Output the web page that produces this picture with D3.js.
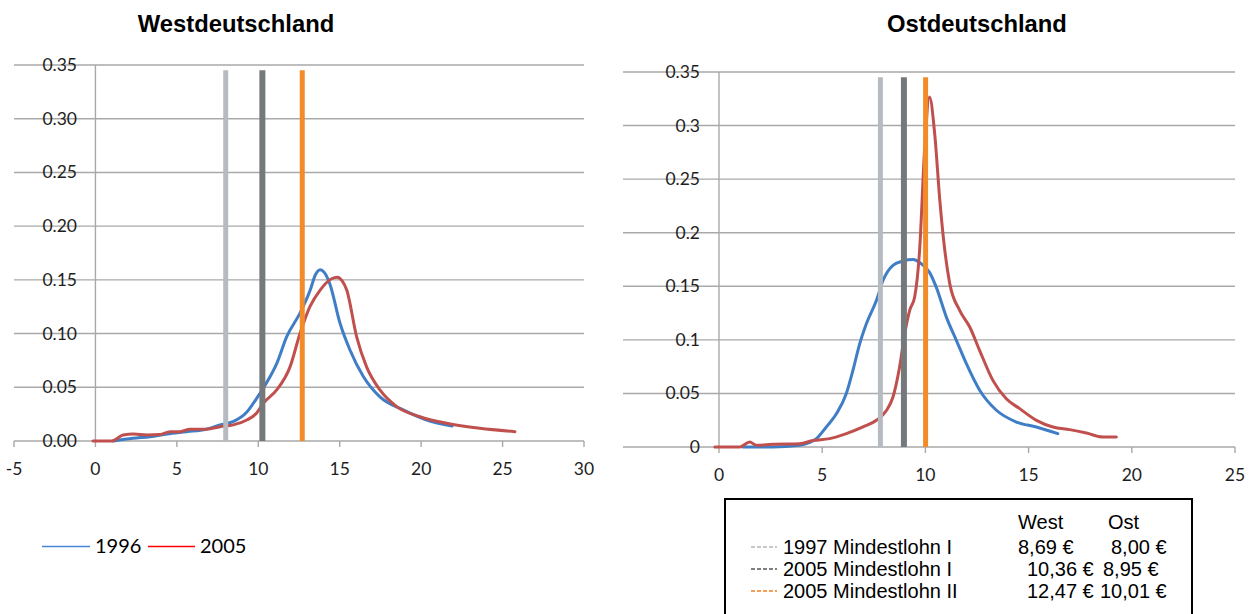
<!DOCTYPE html>
<html>
<head>
<meta charset="utf-8">
<script src="https://cdn.jsdelivr.net/npm/d3@7"></script>
<style>
  body { margin: 0; background: #fff; }
  svg { display: block; }
</style>
</head>
<body>
<svg id="chart" width="1251" height="614"></svg>
<script>
// ---- data ----
var yTicks = [0, 0.05, 0.1, 0.15, 0.2, 0.25, 0.3, 0.35];
var westXTicks = [-5, 0, 5, 10, 15, 20, 25, 30];
var ostXTicks = [0, 5, 10, 15, 20, 25];

var west1996 = [[1.1, 0], [2.3, 0.0025], [3.35, 0.004], [4.4, 0.0065], [5.6, 0.0087], [6.8, 0.011],
  [7.65, 0.015], [8.45, 0.018], [9.3, 0.027], [9.9, 0.0397], [10.5, 0.054], [11.13, 0.072],
  [11.74, 0.097], [12.56, 0.119], [13.2, 0.141], [13.5, 0.1545], [13.8, 0.1595], [14.05, 0.157],
  [14.4, 0.146], [15.02, 0.1096], [15.63, 0.0847], [16.45, 0.06], [17.47, 0.041], [18.9, 0.0289],
  [20.34, 0.0195], [21.9, 0.014]];
var west2005 = [[-0.15, 0], [1.0, 0], [1.7, 0.0056], [2.33, 0.0065], [3.15, 0.0056], [3.97, 0.006],
  [4.58, 0.0087], [5.2, 0.0087], [5.8, 0.011], [6.83, 0.011], [7.65, 0.0133], [8.47, 0.015],
  [9.29, 0.0195], [9.9, 0.026], [10.3, 0.035], [11.13, 0.0475], [11.95, 0.069], [12.56, 0.1],
  [13.17, 0.125], [13.8, 0.1405], [14.5, 0.151], [14.85, 0.1525], [15.15, 0.149], [15.43, 0.1406],
  [16.04, 0.097], [16.65, 0.069], [17.47, 0.0475], [18.5, 0.032], [19.93, 0.0226], [21.56, 0.0165],
  [23.6, 0.0118], [25.76, 0.0087]];
var ost1996 = [[1.16, 0], [2.6, 0], [3.9, 0.0016], [4.72, 0.0078], [5.2, 0.0187], [5.69, 0.031],
  [6.17, 0.05], [6.49, 0.0716], [6.82, 0.0965], [7.14, 0.115], [7.63, 0.137], [7.95, 0.1556],
  [8.43, 0.1696], [8.92, 0.1736], [9.4, 0.1749], [9.8, 0.171], [10.2, 0.163], [10.53, 0.149],
  [11.02, 0.121], [11.5, 0.0996], [11.98, 0.078], [12.63, 0.053], [13.44, 0.0343], [14.41, 0.0233],
  [15.38, 0.0187], [16.42, 0.0125]];
var ost2005 = [[-0.2, 0], [1.0, 0], [1.49, 0.0047], [1.81, 0.0016], [2.6, 0.0025], [3.9, 0.003],
  [4.55, 0.006], [5.36, 0.0078], [6.17, 0.0125], [6.98, 0.0187], [7.63, 0.025], [8.11, 0.034],
  [8.43, 0.0467], [8.75, 0.0747], [9.0, 0.106], [9.24, 0.1276], [9.48, 0.14], [9.72, 0.1836],
  [9.96, 0.277], [10.2, 0.3267], [10.45, 0.2925], [10.7, 0.23], [10.94, 0.1836], [11.18, 0.1525],
  [11.66, 0.1276], [12.15, 0.112], [12.63, 0.09], [13.27, 0.0622], [13.92, 0.045], [14.57, 0.0358],
  [15.38, 0.0249], [16.18, 0.0187], [16.99, 0.0162], [17.8, 0.013], [18.6, 0.0093], [19.25, 0.0093]];

// minimum wage markers (positions as drawn)
var westMinWage = [8.0, 10.25, 12.7];
var ostMinWage = [7.82, 8.96, 10.01];
var minWageTop = 0.345;

var wageLabels = ["1997 Mindestlohn I", "2005 Mindestlohn I", "2005 Mindestlohn II"];
var wageWest = ["8,69 €", "10,36 €", "12,47 €"];
var wageOst = ["8,00 €", "8,95 €", "10,01 €"];
var seriesNames = ["1996", "2005"];

// ---- styles ----
var curveColors = ["#3f7ec6", "#c0504d"];
var markerColors = ["#b5bbc1", "#76797c", "#f28c28"];
var markerWidths = [5, 6, 5];
var legendDashColors = ["#c8c8c8", "#808080", "#f4a05a"];
var gridColor = "#a9a9a9";
var tickFont = "Lato, 'Open Sans', sans-serif";

var svg = d3.select("#chart");

function drawPanel(opt) {
  var x = d3.scaleLinear().domain(opt.xDomain).range(opt.xRange);
  var y = d3.scaleLinear().domain([0, 0.35]).range(opt.yRange);
  var g = svg.append("g");

  // horizontal gridlines (the 0 line is the x axis)
  g.selectAll(".grid").data(yTicks).enter().append("line")
    .attr("x1", x(opt.xDomain[0])).attr("x2", x(opt.xDomain[1]))
    .attr("y1", function (d) { return y(d); }).attr("y2", function (d) { return y(d); })
    .attr("stroke", gridColor).attr("stroke-width", 1.4);

  // vertical axis at x = 0
  g.append("line")
    .attr("x1", x(0)).attr("x2", x(0))
    .attr("y1", y(0.35)).attr("y2", y(0))
    .attr("stroke", gridColor).attr("stroke-width", 1.4);

  // x tick marks + labels
  g.selectAll(".xtick").data(opt.xTicks).enter().append("line")
    .attr("x1", function (d) { return x(d); }).attr("x2", function (d) { return x(d); })
    .attr("y1", y(0)).attr("y2", y(0) + 6)
    .attr("stroke", gridColor).attr("stroke-width", 1.4);
  g.selectAll(".xlab").data(opt.xTicks).enter().append("text")
    .attr("x", function (d) { return x(d); })
    .attr("y", y(0) + opt.xLabelDy)
    .attr("text-anchor", "middle")
    .style("font-family", tickFont).style("font-size", "17.5px").attr("fill", "#1e1e1e")
    .text(function (d) { return d; });

  // y labels
  g.selectAll(".ylab").data(yTicks).enter().append("text")
    .attr("x", opt.yLabelX)
    .attr("y", function (d) { return y(d) + 6; })
    .attr("text-anchor", "end")
    .style("font-family", tickFont).style("font-size", "17.5px").attr("fill", "#1e1e1e")
    .text(opt.yFormat);

  // curves
  var line = d3.line()
    .x(function (d) { return x(d[0]); })
    .y(function (d) { return y(d[1]); })
    .curve(d3.curveMonotoneX);
  opt.series.forEach(function (s, i) {
    g.append("path").datum(s)
      .attr("d", line)
      .attr("fill", "none")
      .attr("stroke", curveColors[i])
      .attr("stroke-width", 3)
      .attr("stroke-linejoin", "round")
      .attr("stroke-linecap", "round");
  });

  // minimum wage markers
  g.selectAll(".wage").data(opt.wages).enter().append("line")
    .attr("x1", function (d) { return x(d); }).attr("x2", function (d) { return x(d); })
    .attr("y1", y(minWageTop)).attr("y2", y(0))
    .attr("stroke", function (d, i) { return markerColors[i]; })
    .attr("stroke-width", function (d, i) { return markerWidths[i]; });

  // title
  svg.append("text")
    .attr("x", opt.titleX).attr("y", 32)
    .attr("text-anchor", "middle")
    .style("font-family", "'Liberation Sans', Arial, sans-serif")
    .style("font-size", "23.8px").style("font-weight", "bold")
    .text(opt.title);
}

drawPanel({
  title: "Westdeutschland", titleX: 236,
  xDomain: [-5, 30], xRange: [14, 584], yRange: [441, 65],
  xTicks: westXTicks, xLabelDy: 34, yLabelX: 77,
  yFormat: d3.format(".2f"),
  series: [west1996, west2005], wages: westMinWage
});

drawPanel({
  title: "Ostdeutschland", titleX: 977,
  xDomain: [-4.65, 25], xRange: [623, 1235], yRange: [447, 72],
  xTicks: ostXTicks, xLabelDy: 34, yLabelX: 700,
  yFormat: function (d) { return String(d); },
  series: [ost1996, ost2005], wages: ostMinWage
});

// ---- series legend (bottom left) ----
var leg = svg.append("g");
var legendItems = [{ x1: 42, x2: 90, tx: 95, color: "#4a86d8" }, { x1: 148, x2: 195, tx: 200, color: "#ff0000" }];
legendItems.forEach(function (it, i) {
  leg.append("line").attr("x1", it.x1).attr("x2", it.x2).attr("y1", 546.5).attr("y2", 546.5)
    .attr("stroke", it.color).attr("stroke-width", 1.3);
  leg.append("text").attr("x", it.tx).attr("y", 553)
    .style("font-family", tickFont).style("font-size", "20px").attr("fill", "#000")
    .text(seriesNames[i]);
});

// ---- minimum wage table (bottom right) ----
var box = svg.append("g").style("font-family", "'Liberation Sans', Arial, sans-serif").style("font-size", "20px");
box.append("rect").attr("x", 725).attr("y", 499).attr("width", 467).attr("height", 130)
  .attr("fill", "none").attr("stroke", "#000").attr("stroke-width", 2);
box.append("text").attr("x", 1018).attr("y", 529).text("West");
box.append("text").attr("x", 1108).attr("y", 529).text("Ost");
var rowY = [554, 576, 598];
var westX = [1018, 1027, 1027];
var ostX = [1111, 1103, 1100];
wageLabels.forEach(function (lab, i) {
  box.append("line").attr("x1", 751).attr("x2", 777).attr("y1", rowY[i] - 7).attr("y2", rowY[i] - 7)
    .attr("stroke", legendDashColors[i]).attr("stroke-width", 2).attr("stroke-dasharray", "4,2");
  box.append("text").attr("x", 783).attr("y", rowY[i]).text(lab);
  box.append("text").attr("x", westX[i]).attr("y", rowY[i]).text(wageWest[i]);
  box.append("text").attr("x", ostX[i]).attr("y", rowY[i]).text(wageOst[i]);
});
</script>
</body>
</html>
